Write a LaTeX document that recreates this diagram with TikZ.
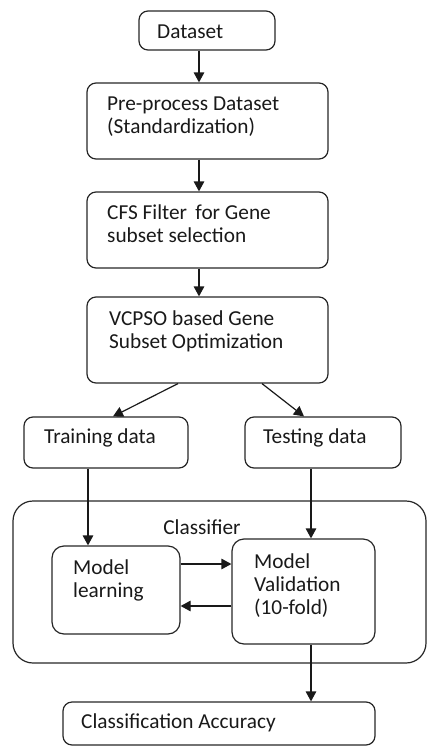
\documentclass[tikz,border=0pt]{standalone}
\usepackage{fontspec}
\setmainfont{Carlito}
\usetikzlibrary{arrows.meta,calc}
\begin{document}
\begin{tikzpicture}[x=1pt,y=-1pt,
 box/.style={draw=black!85, line width=1.2pt, rounded corners=9pt, inner sep=0pt},
 txt/.style={anchor=west, inner sep=0pt, align=left, font=\fontsize{21.3}{23}\selectfont, text=black!90},
 arr/.style={-{Triangle[length=10pt,width=10.5pt]}, line width=1.2pt, draw=black!90}]
\useasboundingbox (0,0) rectangle (427,747);
% boxes
\node[box, minimum width=136, minimum height=39] (data) at (207,30.5) {};
\node[box, minimum width=241, minimum height=76] (pre) at (207.5,121) {};
\node[box, minimum width=241, minimum height=76] (cfs) at (207.5,230) {};
\node[box, minimum width=241, minimum height=86] (vcpso) at (207.5,340) {};
\node[box, minimum width=164, minimum height=51] (train) at (106,442.5) {};
\node[box, minimum width=156, minimum height=51] (test) at (323,442.5) {};
\node[box, rounded corners=20pt, minimum width=413, minimum height=162] (clf) at (219.5,582) {};
\node[box, rounded corners=12pt, minimum width=128, minimum height=88] (learn) at (116,590) {};
\node[box, rounded corners=12pt, minimum width=143, minimum height=105] (valid) at (303.5,591.5) {};
\node[box, minimum width=312, minimum height=43] (acc) at (219,723.5) {};
% texts
\node[txt] (tdata) at (157,32) {Dataset};
\node[txt] (tpre) at (107,117) {Pre-process Dataset\\(Standardization)};
\node[txt] (tcfs) at (107,224) {CFS Filter\, for Gene\\subset selection};
\node[txt] (tvcpso) at (109,331.5) {VCPSO based Gene\\Subset Optimization};
\node[txt] (ttrain) at (44,438) {Training data};
\node[txt] (ttest) at (263,438) {Testing data};
\node[txt, anchor=center] (tclf) at (202,527) {Classifier};
\node[txt] (tlearn) at (73,580) {Model\\learning};
\node[txt] (tvalid) at (254,586) {Model\\Validation\\(10-fold)};
\node[txt] (tacc) at (81,723) {Classification Accuracy};
% arrow start points
\coordinate (s1) at ($(data.south)+(-8,0)$);
\coordinate (s2) at ($(pre.south)+(-8.5,0)$);
\coordinate (s3) at ($(cfs.south)+(-8.5,0)$);
\coordinate (s4) at ($(train.south)+(-18,0)$);
\coordinate (s5) at ($(test.south)+(-12,0)$);
\coordinate (s6) at ($(valid.south)+(7.5,0)$);
\coordinate (r1) at (0,564);
\coordinate (r2) at (0,606);
% arrows
\draw[arr] (s1) -- (s1 |- pre.north);
\draw[arr] (s2) -- (s2 |- cfs.north);
\draw[arr] (s3) -- (s3 |- vcpso.north);
\draw[arr] ($(vcpso.south)+(-29.5,0)$) -- ($(train.north)+(7,0)$);
\draw[arr] ($(vcpso.south)+(54.5,0)$) -- ($(test.north)+(-19,0)$);
\draw[arr] (s4) -- (s4 |- learn.north);
\draw[arr] (s5) -- (s5 |- valid.north);
\draw[arr] (learn.east |- r1) -- (valid.west |- r1);
\draw[arr] (valid.west |- r2) -- (learn.east |- r2);
\draw[arr] (s6) -- (s6 |- acc.north);
\end{tikzpicture}
\end{document}
